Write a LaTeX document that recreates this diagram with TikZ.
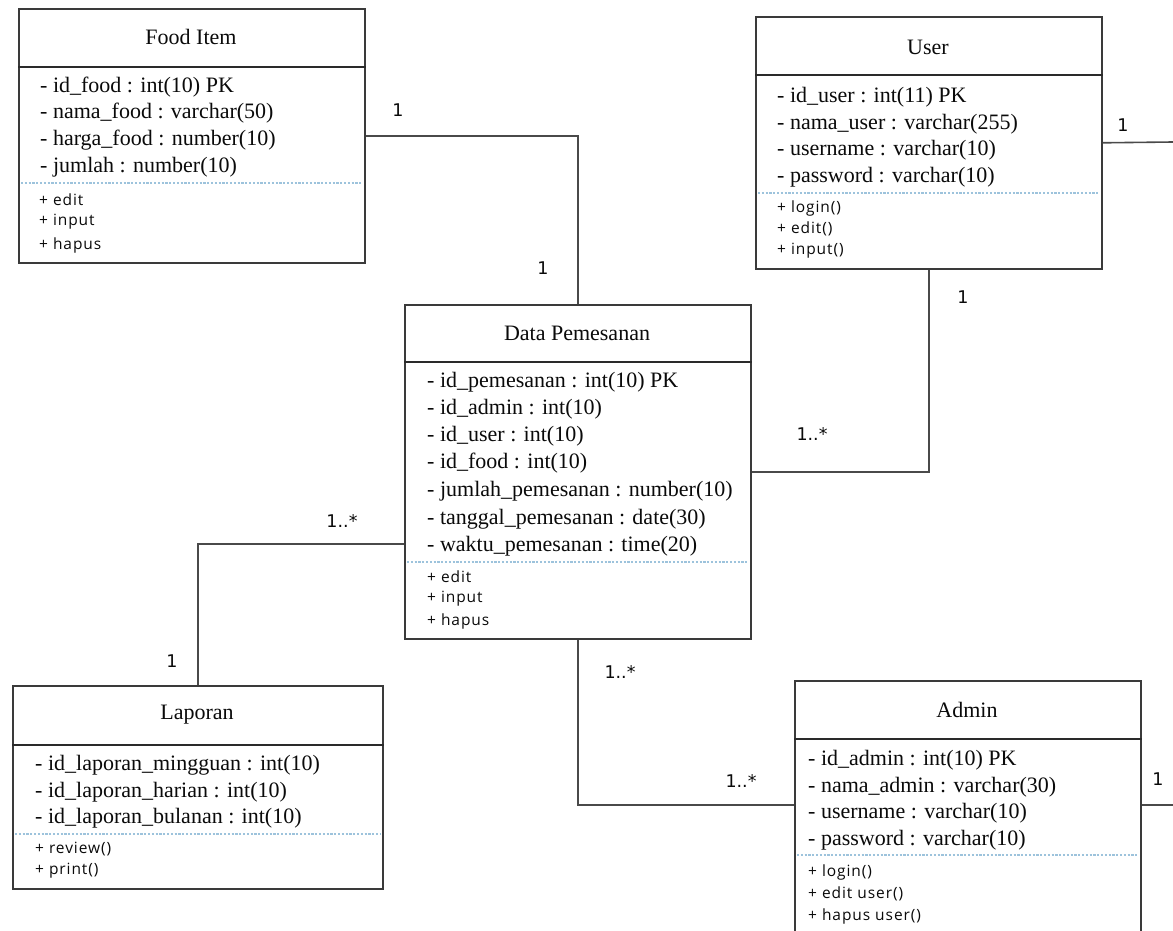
\documentclass[tikz,border=0pt]{standalone}
\usepackage{fontspec}
\setmainfont{Liberation Serif}
\newfontfamily\methfont[LetterSpace=6]{Open Sans}
\newfontfamily\cardfont{DejaVu Sans}
\definecolor{boxc}{HTML}{3A3A3A}
\definecolor{headc}{HTML}{2A2A2A}
\definecolor{linkc}{HTML}{4A4A4A}
\definecolor{sepc}{HTML}{9DC3DC}
\definecolor{txtc}{HTML}{0A0A0A}
\tikzset{
  classbox/.style={draw=boxc, line width=1.6pt, minimum width=346pt, inner sep=0pt, anchor=north west},
  headline/.style={draw=headc, line width=2.6pt},
  sepline/.style={draw=sepc, line width=1.1pt, dash pattern=on 2.2pt off 1.6pt},
  title/.style={font=\fontsize{22}{24}\selectfont, text=txtc, inner sep=0pt},
  attr/.style={font=\fontsize{22}{24}\selectfont, text=txtc, anchor=west, inner sep=0pt},
  meth/.style={font=\methfont\fontsize{15.5}{17}\selectfont, text=txtc, anchor=west, inner sep=0pt},
  card/.style={font=\cardfont\fontsize{17.5}{19}\selectfont, text=txtc, inner sep=0pt},
  link/.style={draw=linkc, line width=1.6pt}
}
\begin{document}
\begin{tikzpicture}[x=1pt, y=-1pt]
\useasboundingbox (0,0) rectangle (1173,931);
\clip (0,0) rectangle (1173,931);
\fill[white] (0,0) rectangle (1173,931);

% ---------- Food Item ----------
\node[classbox, minimum height=254pt] (food) at (18,8) {};
\draw[headline] ([yshift=-59pt]food.north west) -- ([yshift=-59pt]food.north east);
\draw[sepline] ([xshift=3pt,yshift=-175pt]food.north west) -- ([xshift=-3pt,yshift=-175pt]food.north east);
\node[title] (food-t) at (191,37) {Food Item};
\node[attr] (food-a1) at (40,87) {- id\_food : int(10) PK};
\node[attr] (food-a2) at (40,113) {- nama\_food : varchar(50)};
\node[attr] (food-a3) at (40,140) {- harga\_food : number(10)};
\node[attr] (food-a4) at (40,167) {- jumlah : number(10)};
\node[meth] (food-m1) at (39,200) {+ edit};
\node[meth] (food-m2) at (39,222) {+ input};
\node[meth] (food-m3) at (39,245) {+ hapus};

% ---------- User ----------
\node[classbox, minimum height=252pt] (user) at (755,16) {};
\draw[headline] ([yshift=-59pt]user.north west) -- ([yshift=-59pt]user.north east);
\draw[sepline] ([xshift=3pt,yshift=-177pt]user.north west) -- ([xshift=-3pt,yshift=-177pt]user.north east);
\node[title] (user-t) at (928,47) {User};
\node[attr] (user-a1) at (777,97) {- id\_user : int(11) PK};
\node[attr] (user-a2) at (777,124) {- nama\_user : varchar(255)};
\node[attr] (user-a3) at (777,150) {- username : varchar(10)};
\node[attr] (user-a4) at (777,177) {- password : varchar(10)};
\node[meth] (user-m1) at (777,208) {+ login()};
\node[meth] (user-m2) at (777,229) {+ edit()};
\node[meth] (user-m3) at (777,251) {+ input()};

% ---------- Data Pemesanan ----------
\node[classbox, minimum height=334pt] (data) at (404,304) {};
\draw[headline] ([yshift=-58pt]data.north west) -- ([yshift=-58pt]data.north east);
\draw[sepline] ([xshift=3pt,yshift=-258pt]data.north west) -- ([xshift=-3pt,yshift=-258pt]data.north east);
\node[title] (data-t) at (577,333) {Data Pemesanan};
\node[attr] (data-a1) at (427,382) {- id\_pemesanan : int(10) PK};
\node[attr] (data-a2) at (427,409) {- id\_admin : int(10)};
\node[attr] (data-a3) at (427,436) {- id\_user : int(10)};
\node[attr] (data-a4) at (427,463) {- id\_food : int(10)};
\node[attr] (data-a5) at (427,491) {- jumlah\_pemesanan : number(10)};
\node[attr] (data-a6) at (427,519) {- tanggal\_pemesanan : date(30)};
\node[attr] (data-a7) at (427,546) {- waktu\_pemesanan : time(20)};
\node[meth] (data-m1) at (427,577) {+ edit};
\node[meth] (data-m2) at (427,599) {+ input};
\node[meth] (data-m3) at (427,621) {+ hapus};

% ---------- Laporan ----------
\node[classbox, minimum width=370pt, minimum height=203pt] (lap) at (12,685) {};
\draw[headline] ([yshift=-60pt]lap.north west) -- ([yshift=-60pt]lap.north east);
\draw[sepline] ([xshift=3pt,yshift=-149pt]lap.north west) -- ([xshift=-3pt,yshift=-149pt]lap.north east);
\node[title] (lap-t) at (197,715) {Laporan};
\node[attr] (lap-a1) at (35,765) {- id\_laporan\_mingguan : int(10)};
\node[attr] (lap-a2) at (35,792) {- id\_laporan\_harian : int(10)};
\node[attr] (lap-a3) at (35,818) {- id\_laporan\_bulanan : int(10)};
\node[meth] (lap-m1) at (35,849) {+ review()};
\node[meth] (lap-m2) at (35,871) {+ print()};

% ---------- Admin ----------
\node[classbox, minimum height=300pt] (admin) at (794,680) {};
\draw[headline] ([yshift=-59pt]admin.north west) -- ([yshift=-59pt]admin.north east);
\draw[sepline] ([xshift=3pt,yshift=-175pt]admin.north west) -- ([xshift=-3pt,yshift=-175pt]admin.north east);
\node[title] (admin-t) at (967,710) {Admin};
\node[attr] (admin-a1) at (808,760) {- id\_admin : int(10) PK};
\node[attr] (admin-a2) at (808,787) {- nama\_admin : varchar(30)};
\node[attr] (admin-a3) at (808,813) {- username : varchar(10)};
\node[attr] (admin-a4) at (808,840) {- password : varchar(10)};
\node[meth] (admin-m1) at (808,872) {+ login()};
\node[meth] (admin-m2) at (808,894) {+ edit user()};
\node[meth] (admin-m3) at (808,916) {+ hapus user()};

% ---------- connectors ----------
\coordinate (userout) at (1173,142);
\coordinate (adminout) at (1173,805);
\draw[link] (food.east) -| (data.north);
\draw[link] (user.south) |- (data.east);
\draw[link] ([yshift=-72pt]data.west) -| (lap.north);
\draw[link] (data.south) |- ([yshift=-125pt]admin.north west);
\draw[link] (user.east) -- (userout);
\draw[link] ([yshift=-125pt]admin.north east) -- (adminout);

% ---------- multiplicities ----------
\node[card] (c1) at (398,110) {1};
\node[card] (c2) at (543,268) {1};
\node[card] (c3) at (1123,125) {1};
\node[card] (c4) at (963,297) {1};
\node[card] (c5) at (812,434) {1..*};
\node[card] (c6) at (342,521) {1..*};
\node[card] (c7) at (172,661) {1};
\node[card] (c8) at (620,672) {1..*};
\node[card] (c9) at (741,781) {1..*};
\node[card] (c10) at (1158,779) {1};
\end{tikzpicture}
\end{document}
